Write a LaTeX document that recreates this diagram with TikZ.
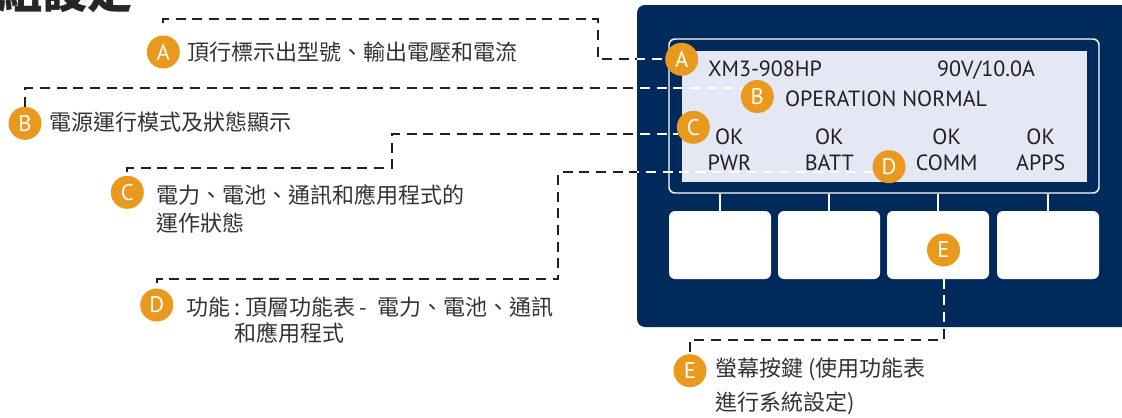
\documentclass[tikz,border=0pt]{standalone}
\usepackage{fontspec}
\setmainfont{PT Sans}
\newfontfamily\cjk{Noto Sans CJK TC}
\usetikzlibrary{calc}
\definecolor{panelblue}{RGB}{0,42,92}
\definecolor{screenbg}{RGB}{228,232,244}
\definecolor{badgeorange}{RGB}{232,153,30}
\definecolor{linegray}{RGB}{35,31,32}
\definecolor{txtgray}{RGB}{51,51,51}
\newcommand\drawconnectors[1]{%
  \draw[#1] (aS) |- (aK) |- (aR.west);
  \draw[#1] (bL.north) |- (bR.150);
  \draw[#1] (cS) |- (cK) |- (cR.205);
  \draw[#1] (dS) |- (dK) |- (dR.200);
  \draw[#1] (eS) |- (eK) -- (eE);
}
\begin{document}
\begin{tikzpicture}[x=0.75pt, y=-0.75pt,
  badge/.style={circle, fill=badgeorange, text=white, minimum size=24.75pt, inner sep=0pt, font=\fontsize{17}{17}\selectfont},
  desc/.style={anchor=west, inner sep=0pt, text=txtgray, align=left},
  lcd/.style={inner sep=0pt, text=linegray, font=\fontsize{16.5}{16.5}\selectfont, text height=11.6pt, text depth=0pt},
  conn/.style={line width=1.5pt, dash pattern=on 7.5pt off 5pt},
  keybtn/.style={rectangle, fill=white, rounded corners=4.5pt, minimum width=76.5pt, minimum height=51pt, inner sep=0pt},
  keylink/.style={white, line width=1.1pt}
]
\useasboundingbox (0,0) rectangle (1122,418);
% title (cut at top, as in the reference)
\begin{scope}
  \clip (0,0) rectangle (1122,418);
  \node[anchor=base west, inner sep=0pt, text=black!85, font=\cjk\bfseries\fontsize{34}{34}\selectfont] (title) at (-3,8) {組設定};
  % device panel
  \fill[panelblue, rounded corners=6pt] (637,5) rectangle (1145,327);
\end{scope}
% screen frame and screen
\node[draw=white, line width=1.1pt, rounded corners=4.5pt, minimum width=322.5pt, minimum height=115.5pt, inner sep=0pt] (frame) at (884,116) {};
\node[fill=screenbg, minimum width=303.75pt, minimum height=98.25pt, inner sep=0pt] (screen) at (884.5,116.5) {};
% keys
\node[keybtn] (k1) at (720,245) {};
\node[keybtn] (k2) at (829,245) {};
\node[keybtn] (k3) at (938,245) {};
\node[keybtn] (k4) at (1048,245) {};
\foreach \k in {k1,k2,k3,k4} \draw[keylink] (\k.north) -- (\k.north |- frame.south);
% screen text
\node[lcd] (model) at (765,68.3) {XM3-908HP};
\node[lcd] (rating) at (986,68.3) {90V/10.0A};
\node[lcd] (mode) at (886,99) {OPERATION NORMAL};
\node[lcd] (ok1) at (729.3,136.7) {OK};
\node[lcd] (ok2) at (829.3,136.7) {OK};
\node[lcd] (ok3) at (946.7,136.7) {OK};
\node[lcd] (ok4) at (1040.7,136.7) {OK};
\node[lcd] (pwr) at (729.3,162.3) {PWR};
\node[lcd] (batt) at (829.3,162.3) {BATT};
\node[lcd] (comm) at (946.7,162.3) {COMM};
\node[lcd] (apps) at (1040.7,162.3) {APPS};
% badges on device
\node[badge] (aR) at (681.7,59.3) {A};
\node[badge] (bR) at (757.3,96.5) {B};
\node[badge] (cR) at (693.3,127.3) {C};
\node[badge] (dR) at (889,166.7) {D};
\node[badge] (eR) at (943.5,250) {E};
% badges with descriptions
\node[badge] (aL) at (163.3,52) {A};
\node[badge] (bL) at (25,123.3) {B};
\node[badge] (cL) at (127.3,192.3) {C};
\node[badge] (dL) at (156.7,305) {D};
\node[badge] (eL) at (690,370.7) {E};
\node[desc, font=\cjk\fontsize{16.5}{20.8}\selectfont] (aT) at (187,52) {頂行標示出型號、輸出電壓和電流};
\node[desc, font=\cjk\fontsize{16.5}{20.8}\selectfont] (bT) at (49,122) {電源運行模式及狀態顯示};
\node[desc, font=\cjk\fontsize{16.5}{20.8}\selectfont] (cT) at (156.7,208.8) {電力、電池、通訊和應用程式的\\運作狀態};
\node[desc, font=\cjk\fontsize{16.5}{20}\selectfont] (dT) at (186.7,320) {功能\hspace{3pt}:\hspace{3pt}頂層功能表 -\ \ 電力、電池、通訊\\\hspace*{36pt}和應用程式};
\node[desc, font=\cjk\fontsize{16.5}{25.7}\selectfont] (eT) at (715,386.2) {螢幕按鍵 (使用功能表\\進行系統設定)};
% connector waypoints
\coordinate (aS) at ($(aL.north)+(0,-12)$);
\coordinate (aK) at (598,19);
\coordinate (cS) at ($(cL.north)+(0,-4)$);
\coordinate (cK) at (391.7,168.3);
\coordinate (dS) at ($(dL.north)+(0,-5)$);
\coordinate (dK) at (558.3,279.3);
\coordinate (eS) at ($(eR.south)+(0,12)$);
\coordinate (eK) at (690,339.5);
\coordinate (eE) at ($(eL.north)+(0,-2)$);
% connectors: dark outside, white over the panel
\drawconnectors{conn, linegray}
\begin{scope}
  \clip[rounded corners=6pt] (637,5) rectangle (1145,327);
  \drawconnectors{conn, white}
\end{scope}
\end{tikzpicture}
\end{document}
